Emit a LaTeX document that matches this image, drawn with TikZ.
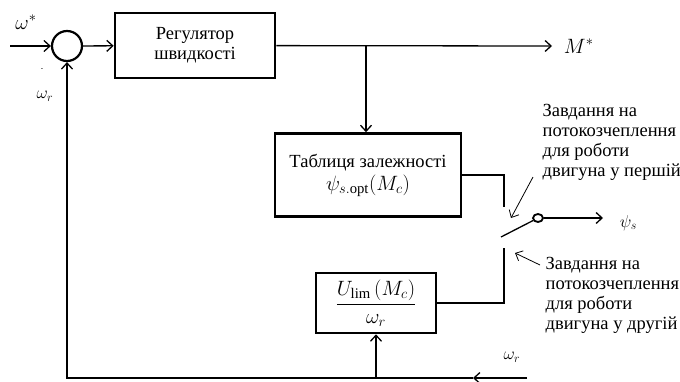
\documentclass[tikz,border=0pt]{standalone}
\usepackage{fontspec}
\usepackage{amsmath}
\setmainfont{Liberation Serif}
\usetikzlibrary{arrows.meta,shapes.geometric}

\newcommand{\bigmath}[1]{{\fontsize{21}{24}\selectfont$#1$}}

\begin{document}
\begin{tikzpicture}[x=1pt, y=-1pt, font=\fontsize{18.5}{20}\selectfont,
    >={Straight Barb[length=6pt,width=11pt]}, line width=1.3pt,
    block/.style={draw, line width=2.6pt, rectangle, align=center},
    note/.style={anchor=north west, align=left, inner sep=0pt}]
\useasboundingbox (0,0) rectangle (680,381);

% blocks
\node [draw, circle, minimum size=30pt, inner sep=0pt, line width=2.2pt] (sum) at (67,46) {};
\node [block, minimum width=160pt, minimum height=65pt] (reg) at (195,45.5)
  {Регулятор\\швидкості};
\node [block, minimum width=186pt, minimum height=83pt] (tab) at (368,175)
  {Таблиця залежності\\[3pt] \bigmath{\psi_{s.\mathrm{opt}}(M_c)}};
\node [block, minimum width=120pt, minimum height=60pt] (ulim) at (376,303)
  {\bigmath{\dfrac{U_{\mathrm{lim}}\,(M_c)}{\omega_r}}};
\node [draw, ellipse, minimum width=10pt, minimum height=8pt, inner sep=0pt,
  line width=1.8pt] (sw) at (538,218) {};

\coordinate (in) at (10,46);
\coordinate (mout) at (552,46);
\coordinate (br) at (366,46);
\coordinate (c1) at (504,207);
\coordinate (c2) at (504,248);
\coordinate (lev) at (501,237);
\coordinate (psi) at (603,218);
\coordinate (wend) at (527,378);
\coordinate (wmid) at (473,378);
\coordinate (fbc) at (67,378);
\coordinate (n1a) at (533,177);
\coordinate (n1b) at (511,218);
\coordinate (n2a) at (540,265);
\coordinate (n2b) at (515,253);

% main path
\draw [->] (in) -- (sum);
\draw [->] (sum) -- (reg);
\draw [->] (reg) -- (mout);
\draw [->] (br) -- (tab.north -| br);
\draw (tab.east) -| (c1);
\draw (ulim.east) -| (c2);
\draw (lev) -- (sw);
\draw [->] (sw) -- (psi);

% feedback
\draw [->] (wend) -- (wmid);
\draw [->] (wmid) -- (fbc) -- (sum);
\draw [->] (ulim.south |- wmid) -- (ulim.south);

% notes
\draw [->, line width=0.8pt] (n1a) -- (n1b);
\draw [->, line width=0.8pt] (n2a) -- (n2b);
\node [note] (t1) at (542,104) {Завдання на\\потокозчеплення\\для роботи\\двигуна у першій};
\node [note] (t2) at (545,257) {Завдання на\\потокозчеплення\\для роботи\\двигуна у другій};

% labels
\node (ws) at (26,22) {\bigmath{\omega^{*}}};
\node (mn) at (42,70) {\scriptsize -};
\node (wr) at (45,96) {$\omega_r$};
\node [anchor=west] (ms) at (560,46) {\bigmath{M^{*}}};
\node [anchor=west] (ps) at (616,223) {$\psi_s$};
\node (wr2) at (512,357) {$\omega_r$};
\end{tikzpicture}
\end{document}
